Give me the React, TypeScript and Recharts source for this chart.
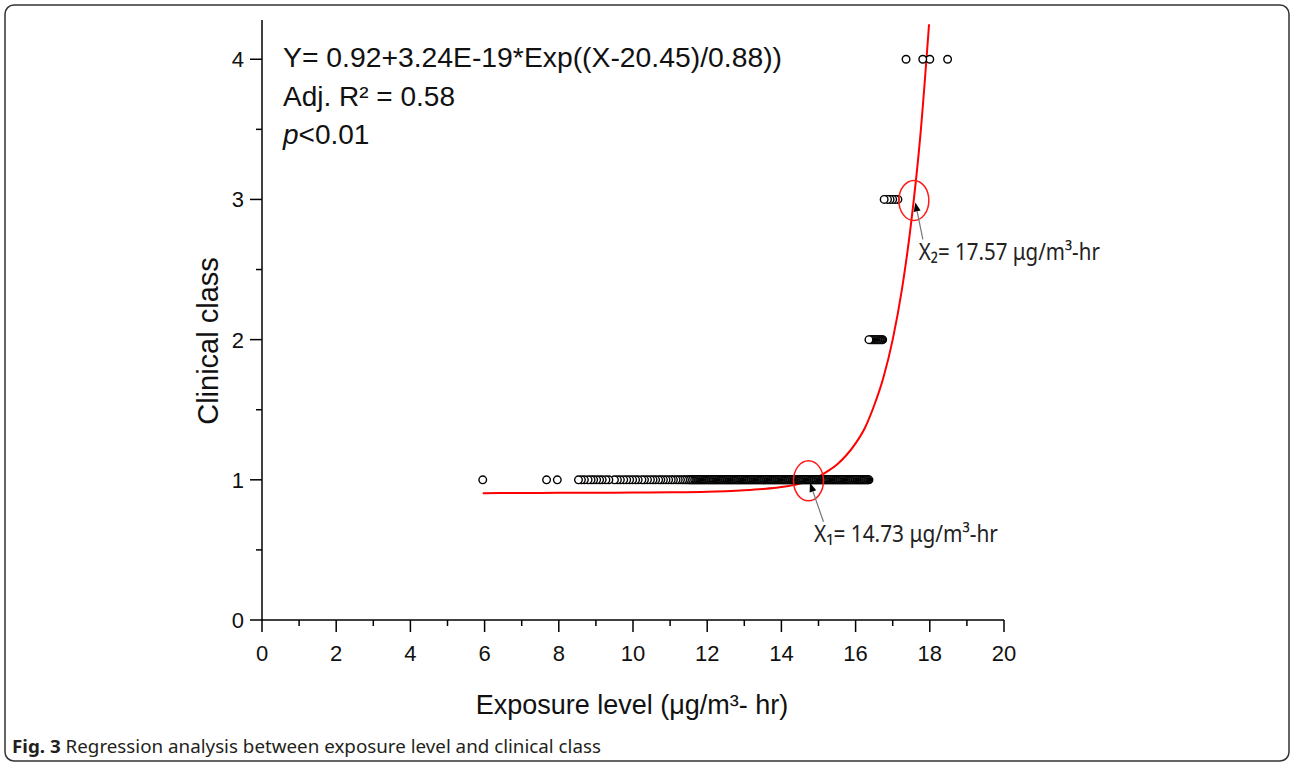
import React from 'react';
import { ComposedChart, Scatter, Line, XAxis, YAxis, ReferenceDot } from 'recharts';

// Exposure levels (µg/m³-hr) of observations in each clinical class
const class1X = [
  5.95, 7.67, 7.96,
  8.53, 8.61, 8.69, 8.79, 8.87, 8.94, 9.02, 9.10, 9.17, 9.27, 9.35, 9.50, 9.58, 9.66, 9.75, 9.83, 9.91,
  9.99, 10.07, 10.14, 10.24, 10.31, 10.39, 10.47, 10.54, 10.61, 10.69, 10.75, 10.82, 10.89, 10.96,
  11.03, 11.09, 11.16, 11.22, 11.28, 11.34, 11.39, 11.44, 11.49,
  11.52, 11.55, 11.57, 11.60, 11.62, 11.65, 11.67, 11.70, 11.72, 11.75, 11.77, 11.80, 11.82, 11.85, 11.87, 11.90, 11.92, 11.95, 11.97,
  12.00, 12.03, 12.05, 12.08, 12.10, 12.13, 12.15, 12.18, 12.20, 12.23, 12.25, 12.28, 12.30, 12.33, 12.35, 12.38, 12.40, 12.43, 12.45, 12.48,
  12.50, 12.53, 12.55, 12.58, 12.60, 12.63, 12.65, 12.68, 12.70, 12.73, 12.75, 12.78, 12.80, 12.83, 12.85, 12.88, 12.90, 12.93, 12.95, 12.98,
  13.00, 13.03, 13.05, 13.08, 13.10, 13.13, 13.15, 13.18, 13.20, 13.23, 13.25, 13.28, 13.30, 13.33, 13.35, 13.38, 13.40, 13.43, 13.45, 13.48,
  13.50, 13.53, 13.55, 13.58, 13.60, 13.63, 13.65, 13.68, 13.70, 13.73, 13.75, 13.78, 13.80, 13.83, 13.85, 13.88, 13.90, 13.93, 13.95, 13.98,
  14.00, 14.03, 14.05, 14.08, 14.10, 14.13, 14.15, 14.18, 14.20, 14.23, 14.25, 14.28, 14.30, 14.33, 14.35, 14.38, 14.40, 14.43, 14.45, 14.48,
  14.50, 14.53, 14.55, 14.58, 14.60, 14.63, 14.65, 14.68, 14.70, 14.73, 14.75, 14.78, 14.80, 14.83, 14.85, 14.88, 14.90, 14.93, 14.95, 14.98,
  15.00, 15.03, 15.05, 15.08, 15.10, 15.13, 15.15, 15.18, 15.20, 15.23, 15.25, 15.28, 15.30, 15.33, 15.35, 15.38, 15.40, 15.43, 15.45, 15.48,
  15.50, 15.53, 15.55, 15.58, 15.60, 15.63, 15.65, 15.68, 15.70, 15.73, 15.75, 15.78, 15.80, 15.83, 15.85, 15.88, 15.90, 15.93, 15.95, 15.98,
  16.00, 16.03, 16.05, 16.08, 16.10, 16.13, 16.15, 16.18, 16.20, 16.23, 16.25, 16.28, 16.30, 16.33, 16.36,
];
const class2X = [16.36, 16.39, 16.41, 16.44, 16.46, 16.49, 16.51, 16.54, 16.56, 16.59, 16.61, 16.64, 16.66, 16.69, 16.71, 16.73];
const class3X = [16.77, 16.86, 16.93, 17.00, 17.07, 17.14];
const class4X = [17.36, 17.81, 18.0, 18.48];

// Fitted regression curve
const curveX = [5.95, 7, 8, 9, 10, 11, 12, 12.5, 13, 13.5, 14, 14.5, 14.75, 15, 15.25, 15.5, 15.75, 16, 16.25, 16.5, 16.75, 17, 17.25, 17.5, 17.75, 17.98];
const curveY = [0.905, 0.906, 0.907, 0.908, 0.909, 0.911, 0.915, 0.919, 0.925, 0.934, 0.948, 0.973, 0.993, 1.022, 1.062, 1.11, 1.175, 1.26, 1.37, 1.53, 1.73, 2.0, 2.36, 2.84, 3.47, 4.25];

const xTicks = [0, 1, 2, 3, 4, 5, 6, 7, 8, 9, 10, 11, 12, 13, 14, 15, 16, 17, 18, 19, 20];
const yTicks = [0, 0.5, 1, 1.5, 2, 2.5, 3, 3.5, 4];

const equationText = 'Y= 0.92+3.24E-19*Exp((X-20.45)/0.88))';
const r2Text = 'Adj. R² = 0.58';
const pText = '<0.01';
const threshold1 = { x: 14.73, y: 1, label: 'X₁= 14.73 μg/m³-hr' };
const threshold2 = { x: 17.57, y: 3, label: 'X₂= 17.57 μg/m³-hr' };
const xLabel = 'Exposure level (μg/m³- hr)';
const yLabel = 'Clinical class';
const captionBold = 'Fig. 3';
const captionText = ' Regression analysis between exposure level and clinical class';

const points = [
  ...class1X.map((x) => ({ x, y: 1 })),
  ...class2X.map((x) => ({ x, y: 2 })),
  ...class3X.map((x) => ({ x, y: 3 })),
  ...class4X.map((x) => ({ x, y: 4 })),
].sort((a, b) => b.x - a.x);

const curveData = curveX.map((x, i) => ({ x, y: curveY[i] }));

const FONT = '"Liberation Sans", Arial, sans-serif';
const NFONT = '"Noto Sans", "Open Sans", sans-serif';

const XTick = (props: any) => {
  const { x, y, payload } = props;
  const v = payload.value;
  const major = v % 2 === 0;
  return (
    <g>
      <line x1={x} y1={y} x2={x} y2={y + (major ? 12 : 6)} stroke="#000" strokeWidth={1.5} />
      {major && (
        <text x={x} y={y + 41} textAnchor="middle" fontSize={22} fontFamily={FONT} fill="#111">
          {v}
        </text>
      )}
    </g>
  );
};

const YTick = (props: any) => {
  const { x, y, payload } = props;
  const v = payload.value;
  const major = Number.isInteger(v);
  return (
    <g>
      <line x1={x} y1={y} x2={x - (major ? 12 : 6)} y2={y} stroke="#000" strokeWidth={1.5} />
      {major && (
        <text x={x - 18} y={y + 8} textAnchor="end" fontSize={22} fontFamily={FONT} fill="#111">
          {v}
        </text>
      )}
    </g>
  );
};

const renderCircle = (props: any) => {
  const { cx, cy } = props;
  if (cx == null || cy == null) return <g />;
  return <circle cx={cx} cy={cy} r={3.8} fill="#fff" stroke="#000" strokeWidth={1.4} />;
};

const makeAnnot = (label: string, lineEnd: [number, number], textOff: [number, number], textLen: number) =>
  (props: any) => {
    const { cx, cy } = props;
    const tipX = cx + 1.5;
    const tipY = cy + 3;
    const ex = cx + lineEnd[0];
    const ey = cy + lineEnd[1];
    const ang = Math.atan2(tipY - ey, tipX - ex);
    const L = 9;
    const W = 3.5;
    const bx = tipX - L * Math.cos(ang);
    const by = tipY - L * Math.sin(ang);
    const p1 = `${tipX},${tipY}`;
    const p2 = `${bx + W * Math.sin(ang)},${by - W * Math.cos(ang)}`;
    const p3 = `${bx - W * Math.sin(ang)},${by + W * Math.cos(ang)}`;
    return (
      <g>
        <ellipse cx={cx} cy={cy + 1} rx={15} ry={20} fill="none" stroke="#ff1a1a" strokeWidth={1.5} />
        <line x1={ex} y1={ey} x2={bx} y2={by} stroke="#777" strokeWidth={1.2} />
        <polygon points={`${p1} ${p2} ${p3}`} fill="#000" />
        <text
          x={cx + textOff[0]}
          y={cy + textOff[1]}
          fontSize={24}
          fontFamily={NFONT}
          fill="#222"
          textLength={textLen}
          lengthAdjust="spacingAndGlyphs"
        >
          {label}
        </text>
      </g>
    );
  };

const annot1 = makeAnnot(threshold1.label, [15, 42], [5.5, 62], 184);
const annot2 = makeAnnot(threshold2.label, [9, 40], [5, 61], 181);

export default function App() {
  return (
    <div style={{ position: 'absolute', left: 0, top: 0, width: 1292, height: 764, background: '#fff' }}>
      <ComposedChart width={1292} height={764} margin={{ top: 20, right: 288, bottom: 84, left: 202 }}>
        <XAxis
          dataKey="x"
          type="number"
          domain={[0, 20]}
          ticks={xTicks}
          interval={0}
          tickSize={0}
          tickMargin={0}
          tickLine={false}
          tick={<XTick />}
          axisLine={{ stroke: '#000', strokeWidth: 1.5 }}
          height={60}
          allowDataOverflow
        />
        <YAxis
          dataKey="y"
          type="number"
          domain={[0, 4.28]}
          ticks={yTicks}
          interval={0}
          tickSize={0}
          tickMargin={0}
          tickLine={false}
          tick={<YTick />}
          axisLine={{ stroke: '#000', strokeWidth: 1.5 }}
          width={60}
          allowDataOverflow
        />
        <Scatter data={points} dataKey="y" isAnimationActive={false} shape={renderCircle} />
        <Line
          data={curveData}
          dataKey="y"
          type="monotone"
          stroke="#ff0000"
          strokeWidth={2}
          dot={false}
          activeDot={false}
          isAnimationActive={false}
        />
        <ReferenceDot x={threshold1.x} y={threshold1.y} r={0} shape={annot1} ifOverflow="visible" />
        <ReferenceDot x={threshold2.x} y={threshold2.y} r={0} shape={annot2} ifOverflow="visible" />
      </ComposedChart>
      <svg width={1292} height={764} style={{ position: 'absolute', left: 0, top: 0, pointerEvents: 'none' }}>
        <rect x={5} y={5} width={1284} height={756} rx={9} fill="none" stroke="#333" strokeWidth={1.5} />
        <text x={283} y={67} fontSize={28} fontFamily={FONT} fill="#111" textLength={499} lengthAdjust="spacingAndGlyphs">{equationText}</text>
        <text x={283} y={106} fontSize={28} fontFamily={FONT} fill="#111">{r2Text}</text>
        <text x={283} y={144} fontSize={28} fontFamily={FONT} fill="#111">
          <tspan fontStyle="italic">p</tspan>
          {pText}
        </text>
        <text x={632} y={714} textAnchor="middle" fontSize={27} fontFamily={FONT} fill="#111">
          {xLabel}
        </text>
        <text transform="translate(218,341) rotate(-90)" textAnchor="middle" fontSize={29} fontFamily={FONT} fill="#111">
          {yLabel}
        </text>
        <text x={12} y={753} fontSize={18} fontFamily={NFONT} fill="#231f20" textLength={589} lengthAdjust="spacingAndGlyphs">
          <tspan fontWeight="bold">{captionBold}</tspan>
          {captionText}
        </text>
      </svg>
    </div>
  );
}
